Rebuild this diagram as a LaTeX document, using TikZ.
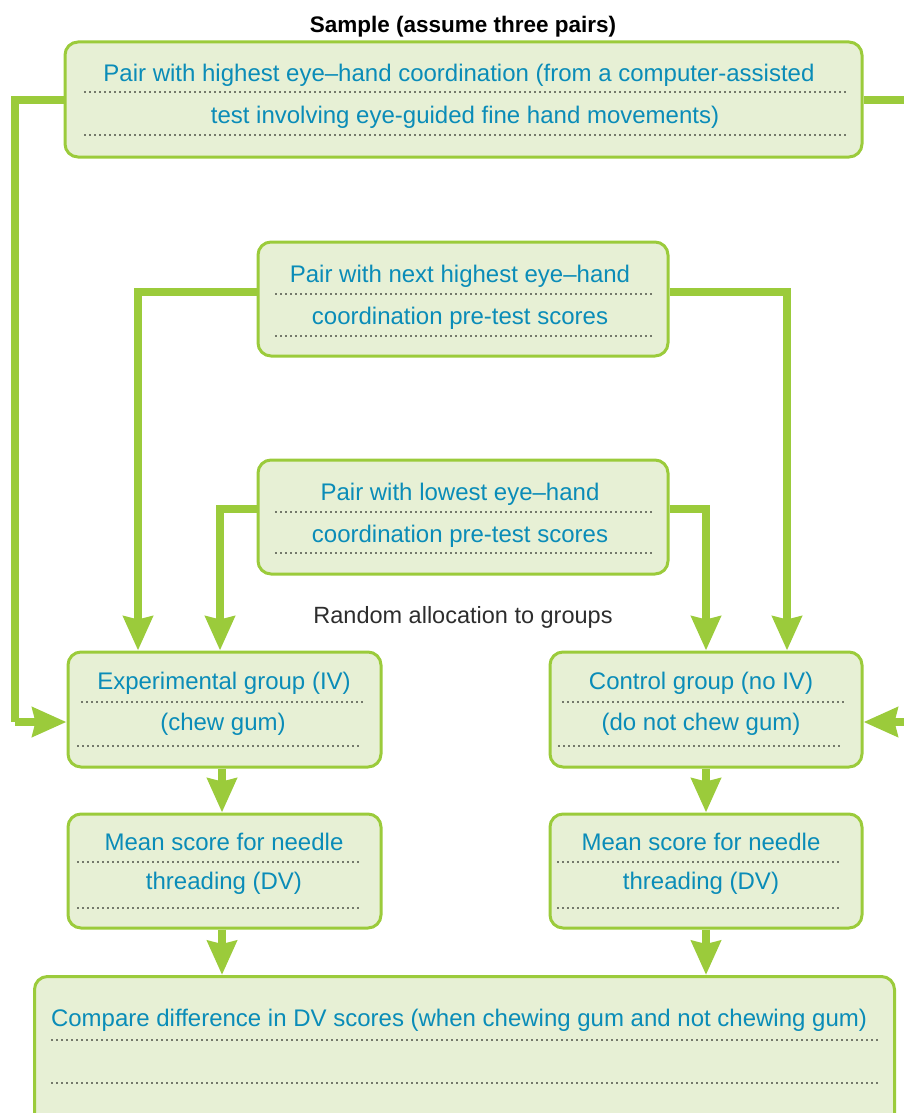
\documentclass[tikz,border=0pt]{standalone}
\usepackage{fontspec}
\setmainfont{Liberation Sans}
\usetikzlibrary{arrows.meta,positioning}
\definecolor{lime}{RGB}{155,203,59}
\definecolor{pale}{RGB}{231,240,213}
\definecolor{ink}{RGB}{10,140,184}
\definecolor{grey}{RGB}{45,45,45}
\tikzset{
  box/.style={draw=lime,line width=3pt,fill=pale,rounded corners=13pt,inner sep=0pt},
  lbl/.style={inner sep=0pt,anchor=center,yshift=-2.5pt},
  txt/.style={lbl,text=ink,font=\fontsize{24}{28}\selectfont},
  rule/.style={line width=1.8pt,line cap=round,dash pattern=on 0pt off 5pt},
  conn/.style={draw=lime,line width=8pt,-{Stealth[length=34pt,width=29pt,inset=3pt]}},
  link/.style={draw=lime,line width=8pt},
}
\begin{document}
\begin{tikzpicture}[x=1pt,y=-1pt]
\useasboundingbox (0,0) rectangle (904,1113);
\clip (0,0) rectangle (904,1113);

% title
\node[lbl,font=\bfseries\fontsize{22.5}{26}\selectfont] (title) at (463,24) {Sample (assume three pairs)};

% boxes
\node[box,minimum width=797pt,minimum height=115pt] (top) at (463.5,99.5) {};
\node[box,minimum width=410pt,minimum height=114pt] (mid) at (463,299) {};
\node[box,minimum width=410pt,minimum height=114pt] (low) at (463,517) {};
\node[box,minimum width=313pt,minimum height=115pt] (exp) at (224.5,709.5) {};
\node[box,minimum width=312pt,minimum height=115pt] (ctl) at (706,709.5) {};
\node[box,minimum width=313pt,minimum height=114pt] (mexp) at (224.5,871) {};
\node[box,minimum width=312pt,minimum height=114pt] (mctl) at (706,871) {};
\node[box,minimum width=860pt,minimum height=170pt,anchor=north west] (cmp) at (33,975) {};

% turning points of the connectors
\coordinate (tl) at (15,100);
\coordinate (tr) at (904,100);
\coordinate (el) at (15,722);
\coordinate (er) at (904,722);
\coordinate (m1) at (138,292);
\coordinate (m2) at (787,292);
\coordinate (l1) at (220,509);
\coordinate (l2) at (706,509);

% connectors from the three pairs to the groups
\draw[link] (top.west |- tl) -- (tl) -- (el);
\draw[conn] (el) -- (el -| exp.west);
\draw[link] (top.east |- tr) -- (tr);
\draw[conn] (er) -- (er -| ctl.east);
\draw[conn] (mid.west |- m1) -- (m1) -- (m1 |- exp.north);
\draw[conn] (mid.east |- m2) -- (m2) -- (m2 |- ctl.north);
\draw[conn] (low.west |- l1) -- (l1) -- (l1 |- exp.north);
\draw[conn] (low.east |- l2) -- (l2) -- (l2 |- ctl.north);

% connectors down to the results
\draw[conn] (exp.south -| 222,0) -- (mexp.north -| 222,0);
\draw[conn] (ctl.south -| 706,0) -- (mctl.north -| 706,0);
\draw[conn] (mexp.south -| 222,0) -- (cmp.north -| 222,0);
\draw[conn] (mctl.south -| 706,0) -- (cmp.north -| 706,0);

% texts
\node[txt] (t1a) at (459,73) {Pair with highest eye–hand coordination (from a computer-assisted};
\node[txt] (t1b) at (465,115) {test involving eye-guided fine hand movements)};
\node[txt] (t2a) at (460,274) {Pair with next highest eye–hand};
\node[txt] (t2b) at (460,316) {coordination pre-test scores};
\node[txt] (t3a) at (460,492) {Pair with lowest eye–hand};
\node[txt] (t3b) at (460,534) {coordination pre-test scores};
\node[lbl,text=grey,font=\fontsize{23.5}{27}\selectfont] (rand) at (463,615) {Random allocation to groups};
\node[txt] (ea) at (224,681) {Experimental group (IV)};
\node[txt] (eb) at (223,722) {(chew gum)};
\node[txt] (ca) at (701,681) {Control group (no IV)};
\node[txt] (cb) at (701,722) {(do not chew gum)};
\node[txt] (mea) at (224,839) {Mean score for needle};
\node[txt] (meb) at (224,881) {threading (DV)};
\node[txt] (mca) at (701,839) {Mean score for needle};
\node[txt] (mcb) at (701,881) {threading (DV)};
\node[txt] (cmpt) at (459,1018) {Compare difference in DV scores (when chewing gum and not chewing gum)};

% dotted writing lines
\draw[rule] (85,92) -- (845,92);
\draw[rule] (85,135) -- (845,135);
\draw[rule] (276,294) -- (652,294);
\draw[rule] (276,336) -- (652,336);
\draw[rule] (276,512) -- (652,512);
\draw[rule] (276,553) -- (652,553);
\draw[rule] (82,702) -- (363,702);
\draw[rule] (78,746) -- (360,746);
\draw[rule] (563,702) -- (843,702);
\draw[rule] (559,746) -- (840,746);
\draw[rule] (78,862) -- (360,862);
\draw[rule] (78,908) -- (360,908);
\draw[rule] (558,862) -- (840,862);
\draw[rule] (558,908) -- (840,908);
\draw[rule] (52,1040) -- (878,1040);
\draw[rule] (52,1083) -- (878,1083);
\end{tikzpicture}
\end{document}
